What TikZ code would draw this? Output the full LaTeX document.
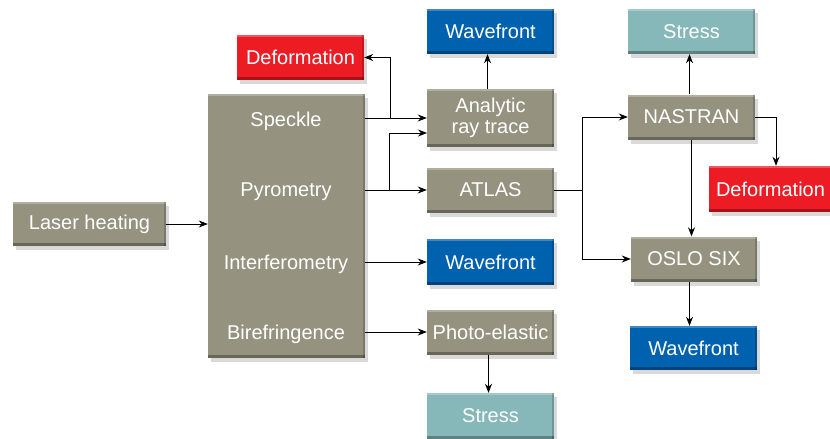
\documentclass[tikz,border=0pt]{standalone}
\usepackage{fontspec}
\setmainfont{Liberation Sans}
\usetikzlibrary{shadows,arrows.meta}
\definecolor{boxgray}{RGB}{149,147,128}
\definecolor{boxred}{RGB}{237,28,36}
\definecolor{boxblue}{RGB}{0,97,175}
\definecolor{boxteal}{RGB}{134,184,185}
\tikzset{
  bevel/.style={
    path picture={
      \fill[white,opacity=0.25] (path picture bounding box.north west) rectangle ([yshift=-2pt]path picture bounding box.north east);
      \fill[black,opacity=0.3] (path picture bounding box.south west) rectangle ([yshift=3pt]path picture bounding box.south east);
      \fill[black,opacity=0.18] ([xshift=-2.5pt]path picture bounding box.south east) rectangle (path picture bounding box.north east);
    }},
  blk/.style={bevel, rectangle, inner sep=0pt, minimum width=127pt, minimum height=45pt,
    text=white, font=\fontsize{20}{20.5}\selectfont, align=center,
    drop shadow={shadow xshift=3pt, shadow yshift=-4pt, opacity=0.3}},
  gbox/.style={blk, fill=boxgray},
  rbox/.style={blk, fill=boxred},
  bbox/.style={blk, fill=boxblue},
  tbox/.style={blk, fill=boxteal},
  lbl/.style={text=white, font=\fontsize{20}{20.5}\selectfont, inner sep=0pt},
  arr/.style={draw=black, line width=0.9pt, -{Stealth[length=9pt,width=7pt]}},
  ln/.style={draw=black, line width=0.9pt}
}
\begin{document}
\begin{tikzpicture}[x=1pt,y=-1pt]
\useasboundingbox (0,0) rectangle (830,439);
% boxes
\node[gbox, minimum width=153pt, minimum height=44pt] (laser) at (89.5,224) {Laser heating};
\node[gbox, minimum width=157pt, minimum height=264pt] (big) at (286.5,226) {};
\node[lbl] (spk) at (286,121) {Speckle};
\node[lbl] (pyr) at (286,192) {Pyrometry};
\node[lbl] (int) at (286,264) {Interferometry};
\node[lbl] (bir) at (286,334) {Birefringence};

\node[rbox] (defL) at (300.5,57.5) {Deformation};
\node[bbox] (wfT) at (490.5,31.5) {Wavefront};
\node[gbox, minimum height=58pt] (art) at (490.5,118) {Analytic\\ray trace};
\node[gbox] (atlas) at (490.5,190) {ATLAS};
\node[bbox, minimum height=46pt] (wfM) at (490.5,262) {Wavefront};
\node[gbox] (photo) at (490.5,332) {Photo-elastic};
\node[tbox, minimum height=46pt] (stressB) at (490.5,416) {Stress};

\node[tbox] (stressT) at (691.5,31.5) {Stress};
\node[gbox] (nas) at (691.5,117) {NASTRAN};
\node[rbox, minimum width=123pt, minimum height=46pt] (defR) at (770.5,189) {Deformation};
\node[gbox, minimum width=126pt] (oslo) at (694,259) {OSLO SIX};
\node[bbox, minimum height=44pt] (wfR) at (693.5,348) {Wavefront};

% junctions
\coordinate (j1) at (390,118);
\coordinate (j2) at (389,190);
\coordinate (a2) at (427,133);
\coordinate (j3) at (582,190);

% connectors
\draw[arr] (laser.east) -- (big.west |- laser.east);
\draw[arr] (big.east |- art.west) -- (art.west);
\draw[arr] (j1) |- (defL.east);
\draw[arr] (big.east |- atlas.west) -- (atlas.west);
\draw[arr] (j2) |- (a2);
\draw[arr] ([xshift=-3pt]art.north) -- ([xshift=-3pt]wfT.south);
\draw[arr] (big.east |- wfM.west) -- (wfM.west);
\draw[arr] (big.east |- photo.west) -- (photo.west);
\draw[arr] ([xshift=-2pt]photo.south) -- ([xshift=-2pt]stressB.north);
\draw[ln] (atlas.east) -- (j3);
\draw[arr] (j3) |- (nas.west);
\draw[arr] (j3) |- (oslo.west);
\draw[arr] ([xshift=-2pt]nas.north) -- ([xshift=-2pt]stressT.south);
\draw[arr] (nas.east) -| ([xshift=5.5pt]defR.north);
\draw[arr] (nas.south) -- (nas.south |- oslo.north);
\draw[arr] ([xshift=-4.5pt]oslo.south) -- ([xshift=-4.5pt]oslo.south |- wfR.north);
\end{tikzpicture}
\end{document}
